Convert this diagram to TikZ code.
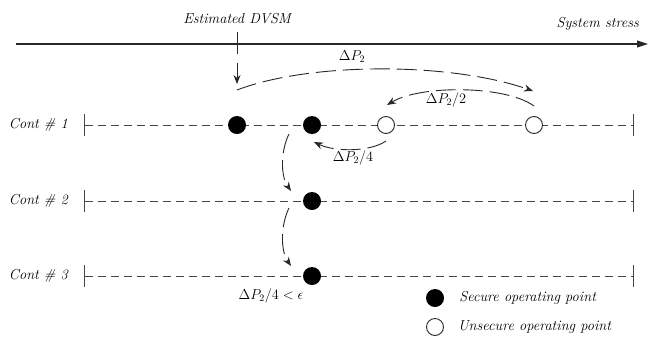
\documentclass[tikz,border=0pt]{standalone}
\usetikzlibrary{arrows.meta, positioning}
\definecolor{linecolor}{RGB}{40, 40, 40}
\definecolor{dashcolor}{RGB}{70, 70, 70}
\tikzset{
  lbl/.style={
    font=\fontsize{14.5}{17}\selectfont\itshape,
    inner sep=1pt
  },
  mathlbl/.style={
    font=\fontsize{14}{16}\selectfont,
    inner sep=1pt
  },
  axisline/.style={
    -{Triangle[length=11bp, width=7bp]}, line width=1.1bp, color=linecolor
  },
  contline/.style={
    {Bar[width=22bp]}-{Bar[width=22bp]}, line width=0.9bp,
    color=dashcolor, dash pattern=on 8bp off 5bp
  },
  securept/.style={
    circle, fill=black, minimum size=18bp, inner sep=0pt
  },
  unsecpt/.style={
    circle, draw=linecolor, fill=white, line width=0.9bp,
    minimum size=17bp, inner sep=0pt
  },
  arr/.style={
    -{Stealth[length=9bp, width=7bp]}, line width=0.9bp, color=linecolor
  },
  steparr/.style={
    arr, dash pattern=on 20bp off 7bp
  }
}

\begin{document}
\begin{tikzpicture}[x=1bp, y=-1bp]

  \useasboundingbox (0,0) rectangle (654,338);

  % ── System stress axis ─────────────────────────────────────
  \coordinate (ax0) at (16,44);
  \coordinate (ax1) at (648,44);
  \draw[axisline] (ax0) -- (ax1);
  \node[lbl, anchor=east] (stress) at (640,24) {System stress};

  % ── Estimated DVSM marker ──────────────────────────────────
  \node[lbl] (dvsm) at (237,19) {Estimated DVSM};
  \coordinate (tk0) at (237,32);
  \coordinate (tk1) at (237,54);
  \draw[line width=0.9bp, color=linecolor] (tk0) -- (tk1);
  \coordinate (dv0) at (237,63);
  \coordinate (dv1) at (237,84);
  \draw[arr] (dv0) -- (dv1);

  % ── Contingency lines ──────────────────────────────────────
  \foreach \i/\y in {1/125, 2/201, 3/276} {
    \coordinate (cs\i) at (84,\y);
    \coordinate (ce\i) at (634,\y);
    \draw[contline] (cs\i) -- (ce\i);
    \node[lbl, left=15bp of cs\i] (cont\i) {Cont \# \i};
  }

  % ── Operating points ───────────────────────────────────────
  \node[securept] (s1) at (237,125) {};
  \node[securept] (s2) at (312,125) {};
  \node[unsecpt]  (u1) at (386,125) {};
  \node[unsecpt]  (u2) at (534,125) {};
  \node[securept] (s3) at (312,201) {};
  \node[securept] (s4) at (312,276) {};

  % ── Step arrows ────────────────────────────────────────────
  \coordinate (p0) at (237,90);
  \coordinate (p1) at (533,91);
  \draw[steparr] (p0) .. controls (310,62) and (450,62) .. (p1);
  \node[mathlbl] (lp) at (352,57) {$\Delta P_2$};

  \coordinate (h0) at (534,106);
  \coordinate (h1) at (387,105);
  \draw[steparr] (h0) .. controls (505,85) and (420,85) .. (h1);
  \node[mathlbl] (lh) at (446,100) {$\Delta P_2/2$};

  \coordinate (q0) at (386,141);
  \coordinate (q1) at (314,142);
  \draw[steparr] (q0) .. controls (370,152) and (335,152) .. (q1);
  \node[mathlbl] (lq) at (353,158) {$\Delta P_2/4$};

  \coordinate (d0) at (289,134);
  \coordinate (d1) at (291,191);
  \draw[steparr] (d0) .. controls (281,150) and (280,175) .. (d1);
  \coordinate (e0) at (289,208);
  \coordinate (e1) at (291,266);
  \draw[steparr] (e0) .. controls (281,224) and (280,250) .. (e1);
  \node[mathlbl] (le) at (271,296) {$\Delta P_2/4 < \epsilon$};

  % ── Legend ─────────────────────────────────────────────────
  \node[securept] (legs) at (435,298) {};
  \node[unsecpt]  (legu) at (435,327) {};
  \node[lbl, right=14bp of legs] (legst) {Secure operating point};
  \node[lbl, right=13bp of legu] (legut) {Unsecure operating point};

\end{tikzpicture}
\end{document}
